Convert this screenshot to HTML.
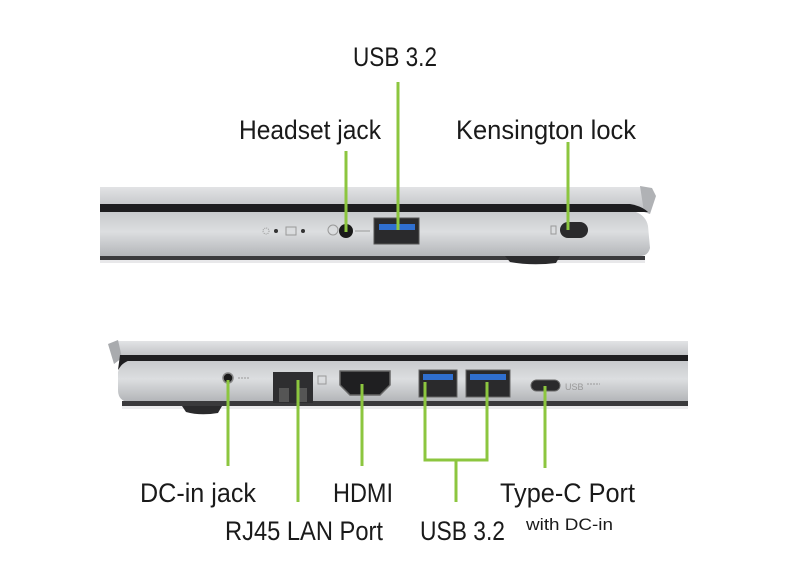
<!DOCTYPE html>
<html><head><meta charset="utf-8"><style>
html,body{margin:0;padding:0;background:#fff;}
svg{display:block;}
text{font-family:"Liberation Sans",sans-serif;fill:#1a1a1a;}
</style></head><body>
<svg width="786" height="587" viewBox="0 0 786 587" xmlns="http://www.w3.org/2000/svg">
<defs>
<linearGradient id="lid" x1="0" y1="0" x2="0" y2="1"><stop offset="0" stop-color="#e2e3e5"/><stop offset="1" stop-color="#c0c2c5"/></linearGradient>
<linearGradient id="base" x1="0" y1="0" x2="0" y2="1"><stop offset="0" stop-color="#c8cacd"/><stop offset="0.45" stop-color="#dcdee0"/><stop offset="1" stop-color="#b4b6b9"/></linearGradient>
</defs>
<rect width="786" height="587" fill="#fff"/>

<!-- TOP LAPTOP -->
<path d="M100 187 L640 187 Q652 188 654 196 L650 210 L100 210 Z" fill="url(#lid)"/>
<path d="M640 186 L652 188 L656 196 L650 214 L644 212 Z" fill="#b0b2b5"/>
<path d="M100 204 L630 204 Q642 206 648 212 L100 212 Z" fill="#1e1e20"/>
<path d="M100 212 L636 212 Q646 216 648 226 L650 248 Q648 256 640 256 L100 256 Z" fill="url(#base)"/>
<rect x="100" y="256" width="545" height="5" fill="#3a3a3c"/>
<rect x="100" y="260" width="545" height="3" fill="#e8e8ea"/>
<path d="M505 256 L560 256 L556 263 Q532 266 510 262 Z" fill="#2a2a2c"/>
<circle cx="266" cy="231" r="3" fill="none" stroke="#999" stroke-width="1" stroke-dasharray="1 1"/>
<circle cx="276" cy="231" r="2" fill="#333"/>
<rect x="286" y="227" width="10" height="8" fill="none" stroke="#999" stroke-width="1"/>
<circle cx="303" cy="231" r="2" fill="#333"/>
<circle cx="333" cy="230" r="5" fill="none" stroke="#999" stroke-width="1"/>
<circle cx="346" cy="231" r="7" fill="#1a1a1a"/>
<line x1="355" y1="231" x2="370" y2="231" stroke="#999" stroke-width="1"/>
<rect x="374" y="218" width="45" height="26" fill="#2a2a2c" stroke="#555" stroke-width="1"/>
<rect x="379" y="224" width="36" height="6" fill="#2f6fd0"/>
<rect x="551" y="226" width="5" height="8" fill="none" stroke="#999" stroke-width="1"/>
<rect x="560" y="222" width="28" height="16" rx="8" fill="#2a2a2c"/>

<!-- BOTTOM LAPTOP -->
<path d="M118 341 L688 341 L688 356 L112 356 Q110 345 118 341 Z" fill="url(#lid)"/>
<path d="M108 344 L118 340 L122 358 L114 364 Z" fill="#a9abae"/>
<path d="M120 355 L688 355 L688 361 L128 361 Q122 364 118 370 Z" fill="#1e1e20"/>
<path d="M128 361 L688 361 L688 401 L124 401 Q118 398 118 390 L118 372 Q120 364 128 361 Z" fill="url(#base)"/>
<rect x="122" y="401" width="566" height="5" fill="#3a3a3c"/>
<rect x="122" y="406" width="566" height="3" fill="#ececee"/>
<path d="M182 406 L222 406 L218 413 Q200 416 186 412 Z" fill="#2a2a2c"/>
<circle cx="228" cy="378" r="5" fill="#1a1a1a" stroke="#888" stroke-width="1.5"/>
<line x1="238" y1="378" x2="250" y2="378" stroke="#999" stroke-width="1" stroke-dasharray="2 1"/>
<rect x="273" y="372" width="40" height="31" fill="#2e2e30"/>
<rect x="279" y="388" width="10" height="14" fill="#555"/>
<rect x="297" y="388" width="10" height="14" fill="#555"/>
<rect x="318" y="376" width="8" height="8" fill="none" stroke="#999" stroke-width="1"/>
<path d="M340 371 L390 371 L390 385 L380 395 L350 395 L340 385 Z" fill="#1f1f21" stroke="#666" stroke-width="1.5"/>
<rect x="419" y="370" width="38" height="27" fill="#2a2a2c" stroke="#666" stroke-width="1"/>
<rect x="423" y="374" width="30" height="6" fill="#2f6fd0"/>
<rect x="466" y="370" width="44" height="27" fill="#2a2a2c" stroke="#666" stroke-width="1"/>
<rect x="470" y="374" width="36" height="6" fill="#2f6fd0"/>
<rect x="531" y="380" width="29" height="11" rx="5.5" fill="#2a2a2c" stroke="#666" stroke-width="1"/>
<text x="565" y="390" font-size="9" style="fill:#999">USB</text>
<line x1="587" y1="384" x2="600" y2="384" stroke="#999" stroke-width="1" stroke-dasharray="2 1"/>

<!-- GREEN CONNECTORS -->
<g stroke="#8cc63f" stroke-width="3" fill="none">
<line x1="398" y1="82" x2="398" y2="230"/>
<line x1="346" y1="151" x2="346" y2="232"/>
<line x1="568" y1="142" x2="568" y2="230"/>
<line x1="228" y1="380" x2="228" y2="466"/>
<line x1="298" y1="380" x2="298" y2="502"/>
<line x1="362" y1="384" x2="362" y2="466"/>
<path d="M425 382 L425 460 L487 460 L487 382"/>
<line x1="456" y1="460" x2="456" y2="502"/>
<line x1="545" y1="386" x2="545" y2="468"/>
</g>

<!-- LABELS -->
<text x="353" y="66" font-size="27" textLength="84" lengthAdjust="spacingAndGlyphs">USB 3.2</text>
<text x="239" y="139" font-size="27" textLength="142" lengthAdjust="spacingAndGlyphs">Headset jack</text>
<text x="456" y="139" font-size="27" textLength="180" lengthAdjust="spacingAndGlyphs">Kensington lock</text>
<text x="140" y="502" font-size="27" textLength="116" lengthAdjust="spacingAndGlyphs">DC-in jack</text>
<text x="333" y="502" font-size="27" textLength="60" lengthAdjust="spacingAndGlyphs">HDMI</text>
<text x="500" y="502" font-size="27" textLength="135" lengthAdjust="spacingAndGlyphs">Type-C Port</text>
<text x="225" y="540" font-size="27" textLength="158" lengthAdjust="spacingAndGlyphs">RJ45 LAN Port</text>
<text x="420" y="540" font-size="27" textLength="85" lengthAdjust="spacingAndGlyphs">USB 3.2</text>
<text x="526" y="530" font-size="17" textLength="87" lengthAdjust="spacingAndGlyphs">with DC-in</text>
</svg>
</body></html>
